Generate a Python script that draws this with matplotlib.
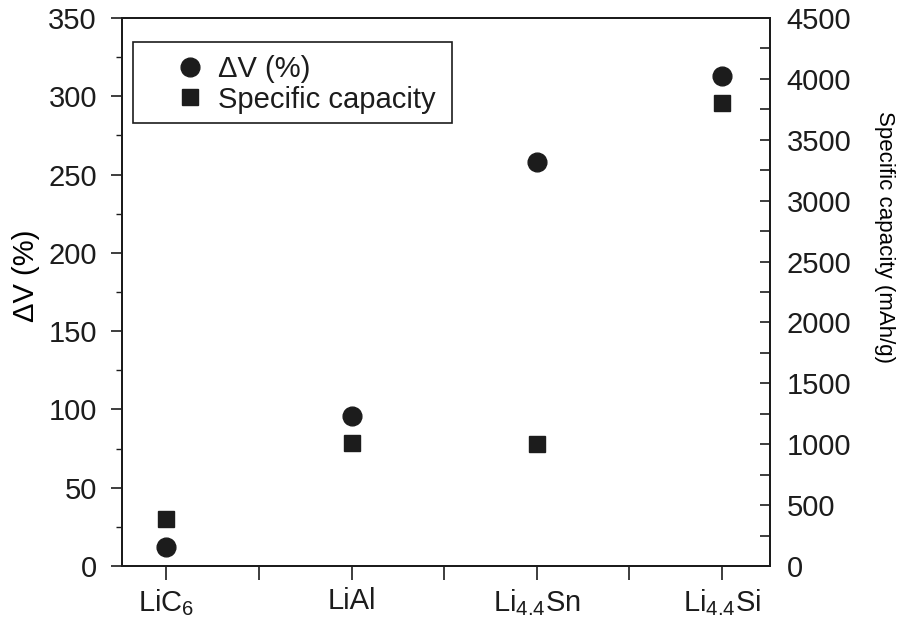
import matplotlib
matplotlib.use("Agg")
import matplotlib.pyplot as plt
import matplotlib.ticker as mticker
from matplotlib.patches import Rectangle

# --- data ---
materials = ["LiC$_6$", "LiAl", "Li$_{4.4}$Sn", "Li$_{4.4}$Si"]
positions = [1, 2, 3, 4]
delta_v = [12, 96, 258, 313]            # volume change, %
capacity = [390, 1010, 1000, 3800]      # specific capacity, mAh/g

INK = "#1c1c1c"

plt.rcParams.update({
    "font.family": ["Liberation Sans", "DejaVu Sans"],
    "font.size": 21,
    "mathtext.fontset": "custom",
    "mathtext.rm": "Liberation Sans",
    "mathtext.it": "Liberation Sans:italic",
    "text.color": INK,
    "axes.edgecolor": INK,
    "axes.linewidth": 1.4,
    "xtick.color": INK,
    "ytick.color": INK,
})

fig = plt.figure(figsize=(9.13, 6.19), dpi=100)
ax = fig.add_axes([0.1336, 0.0856, 0.7098, 0.8853])
ax2 = ax.twinx()

h1, = ax.plot(positions, delta_v, "o", color=INK, markersize=13.5, label="\u0394V (%)")
h2, = ax2.plot(positions, capacity, "s", color=INK, markersize=11, label="Specific capacity")

ax.set_xlim(0.76, 4.26)
ax.set_ylim(0, 350)
ax2.set_ylim(0, 4500)

# x axis
ax.set_xticks(positions)
ax.set_xticklabels(materials)
ax.xaxis.set_minor_locator(mticker.FixedLocator([1.5, 2.5, 3.5]))
ax.tick_params(axis="x", which="both", direction="out", length=10, width=1.2, pad=5)

# left axis
ax.yaxis.set_major_locator(mticker.MultipleLocator(50))
ax.yaxis.set_minor_locator(mticker.MultipleLocator(25))
ax.tick_params(axis="y", which="major", direction="out", length=8, width=1.2, pad=10)
ax.tick_params(axis="y", which="minor", direction="out", length=4, width=1.0)
ax.tick_params(top=False, right=False, which="both")
ax.set_ylabel("\u0394V (%)")
ax.yaxis.set_label_coords(-0.127, 0.53)

# right axis
ax2.yaxis.set_major_locator(mticker.MultipleLocator(500))
ax2.yaxis.set_minor_locator(mticker.MultipleLocator(250))
ax2.tick_params(axis="y", which="both", direction="in", length=7, width=1.2, pad=12)
ax2.set_ylabel("Specific capacity (mAh/g)", rotation=270, va="center", fontsize=16)
ax2.yaxis.set_label_coords(1.177, 0.60)

# legend with a square frame
ax.add_patch(Rectangle((0.017, 0.808), 0.492, 0.148, transform=ax.transAxes,
                       fill=False, edgecolor=INK, linewidth=1.2, zorder=5))
ax.legend(handles=[h1, h2], loc="upper left", bbox_to_anchor=(0.0826, 0.933),
          frameon=False, borderpad=0, borderaxespad=0, handlelength=1.0,
          handletextpad=0.47, labelspacing=0.1, fontsize=21)

fig.savefig("out.png", dpi=100)
